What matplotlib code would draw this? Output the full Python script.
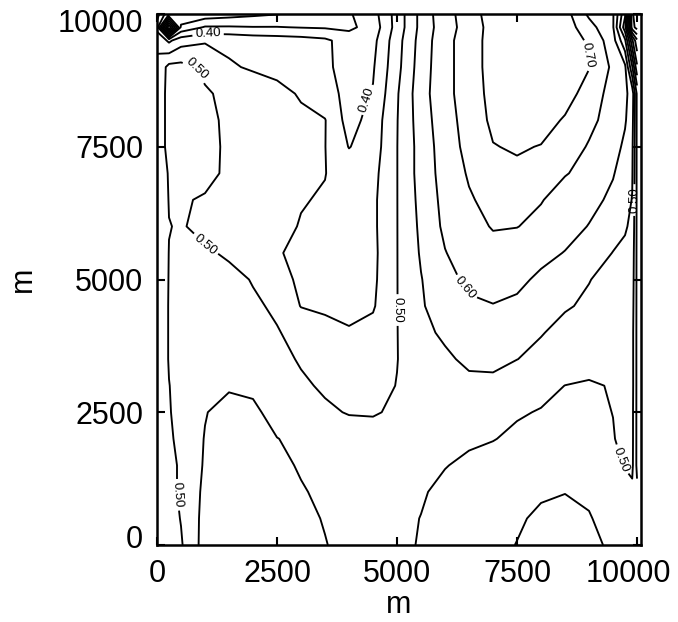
import matplotlib
matplotlib.use("Agg")
from matplotlib import pyplot as plt
from matplotlib import transforms
import numpy as np

plt.rcParams['font.family'] = ['Liberation Sans', 'DejaVu Sans']

# grid node positions (m)
x_nodes = [0, 250, 500, 1000, 1500, 2000, 2500, 3000, 3500, 4000, 4500, 5000,
           5500, 6000, 6500, 7000, 7500, 8000, 8500, 9000, 9500, 9750, 9900, 10000]
y_nodes = [0, 500, 1000, 1500, 2000, 2500, 3000, 3500, 4000, 4500, 5000, 5500,
           6000, 6500, 7000, 7500, 8000, 8500, 9000, 9500, 9750, 10000]

# field values, one row per y node (bottom to top)
row_0 = [0.46, 0.48, 0.495, 0.57, 0.585, 0.585, 0.575, 0.565, 0.552, 0.535, 0.52, 0.51, 0.497, 0.48, 0.47, 0.46, 0.449, 0.435, 0.43, 0.443, 0.455, 0.46, 0.46, 0.455]
row_1 = [0.46, 0.48, 0.502, 0.566, 0.585, 0.585, 0.575, 0.562, 0.547, 0.535, 0.522, 0.512, 0.499, 0.485, 0.475, 0.465, 0.455, 0.443, 0.438, 0.448, 0.462, 0.468, 0.47, 0.46]
row_2 = [0.46, 0.48, 0.51, 0.56, 0.58, 0.58, 0.57, 0.555, 0.538, 0.53, 0.52, 0.512, 0.505, 0.488, 0.478, 0.468, 0.46, 0.455, 0.451, 0.455, 0.468, 0.48, 0.49, 0.46]
row_3 = [0.46, 0.48, 0.51, 0.555, 0.575, 0.575, 0.565, 0.544, 0.535, 0.527, 0.52, 0.515, 0.51, 0.502, 0.49, 0.48, 0.472, 0.465, 0.462, 0.468, 0.485, 0.503, 0.51, 0.44]
row_4 = [0.46, 0.49, 0.517, 0.552, 0.565, 0.565, 0.551, 0.54, 0.532, 0.525, 0.52, 0.517, 0.515, 0.512, 0.508, 0.502, 0.49, 0.482, 0.478, 0.482, 0.498, 0.51, 0.512, 0.44]
row_5 = [0.46, 0.497, 0.515, 0.548, 0.565, 0.56, 0.532, 0.52, 0.508, 0.497, 0.496, 0.507, 0.515, 0.52, 0.52, 0.515, 0.505, 0.497, 0.49, 0.492, 0.5005, 0.51, 0.512, 0.44]
row_6 = [0.46, 0.499, 0.515, 0.54, 0.545, 0.54, 0.525, 0.508, 0.493, 0.485, 0.488, 0.501, 0.52, 0.53, 0.535, 0.535, 0.525, 0.515, 0.4995, 0.493, 0.504, 0.515, 0.515, 0.44]
row_7 = [0.46, 0.503, 0.515, 0.53, 0.535, 0.53, 0.515, 0.495, 0.485, 0.475, 0.478, 0.499, 0.525, 0.54, 0.562, 0.565, 0.5505, 0.54, 0.53, 0.525, 0.52, 0.52, 0.515, 0.44]
row_8 = [0.46, 0.503, 0.515, 0.528, 0.53, 0.522, 0.502, 0.49, 0.47, 0.455, 0.465, 0.499, 0.535, 0.56, 0.575, 0.585, 0.575, 0.552, 0.54, 0.53, 0.525, 0.522, 0.515, 0.44]
row_9 = [0.46, 0.503, 0.515, 0.525, 0.522, 0.505, 0.495, 0.448, 0.44, 0.435, 0.445, 0.499, 0.545, 0.575, 0.592, 0.598, 0.59, 0.575, 0.553, 0.545, 0.535, 0.53, 0.52, 0.44]
row_10 = [0.46, 0.502, 0.512, 0.518, 0.51, 0.498, 0.47, 0.44, 0.425, 0.425, 0.44, 0.499, 0.548, 0.585, 0.61, 0.62, 0.612, 0.59, 0.575, 0.551, 0.54, 0.535, 0.525, 0.44]
row_11 = [0.46, 0.501, 0.508, 0.505, 0.495, 0.47, 0.457, 0.43, 0.42, 0.42, 0.438, 0.499, 0.555, 0.598, 0.625, 0.635, 0.63, 0.615, 0.598, 0.57, 0.549, 0.54, 0.53, 0.44]
row_12 = [0.46, 0.499, 0.503, 0.49, 0.48, 0.47, 0.46, 0.448, 0.435, 0.425, 0.44, 0.499, 0.56, 0.61, 0.635, 0.653, 0.651, 0.64, 0.62, 0.598, 0.565, 0.555, 0.54, 0.44]
row_13 = [0.46, 0.502, 0.51, 0.49, 0.475, 0.465, 0.458, 0.452, 0.447, 0.43, 0.44, 0.499, 0.565, 0.615, 0.645, 0.665, 0.67, 0.652, 0.635, 0.615, 0.59, 0.57, 0.548, 0.44]
row_14 = [0.46, 0.505, 0.525, 0.53, 0.48, 0.47, 0.465, 0.458, 0.451, 0.43, 0.435, 0.499, 0.57, 0.62, 0.655, 0.68, 0.69, 0.685, 0.652, 0.64, 0.603, 0.58, 0.555, 0.44]
row_15 = [0.46, 0.52, 0.53, 0.535, 0.48, 0.47, 0.463, 0.457, 0.451, 0.398, 0.425, 0.499, 0.57, 0.625, 0.665, 0.698, 0.705, 0.698, 0.68, 0.645, 0.62, 0.59, 0.56, 0.44]
row_16 = [0.46, 0.52, 0.53, 0.52, 0.485, 0.48, 0.47, 0.46, 0.452, 0.38, 0.42, 0.498, 0.575, 0.63, 0.67, 0.71, 0.725, 0.72, 0.695, 0.665, 0.625, 0.605, 0.57, 0.44]
row_17 = [0.46, 0.52, 0.53, 0.505, 0.49, 0.475, 0.465, 0.445, 0.42, 0.385, 0.403, 0.495, 0.58, 0.635, 0.675, 0.715, 0.73, 0.73, 0.72, 0.68, 0.63, 0.61, 0.58, 0.44]
row_18 = [0.46, 0.515, 0.515, 0.49, 0.455, 0.445, 0.435, 0.425, 0.41, 0.38, 0.395, 0.485, 0.575, 0.635, 0.675, 0.72, 0.735, 0.735, 0.725, 0.702, 0.64, 0.61, 0.455, 0.31]
row_19 = [0.44, 0.39, 0.43, 0.445, 0.44, 0.43, 0.425, 0.42, 0.41, 0.375, 0.385, 0.48, 0.57, 0.635, 0.675, 0.72, 0.735, 0.735, 0.72, 0.695, 0.62, 0.51, 0.31, 0.21]
row_20 = [0.38, 0.0, 0.31, 0.355, 0.355, 0.352, 0.352, 0.348, 0.345, 0.34, 0.37, 0.47, 0.565, 0.63, 0.67, 0.72, 0.735, 0.735, 0.725, 0.67, 0.605, 0.42, 0.12, 0.08]
row_21 = [0.42, 0.31, 0.26, 0.27, 0.28, 0.29, 0.298, 0.31, 0.33, 0.345, 0.38, 0.47, 0.565, 0.635, 0.67, 0.73, 0.735, 0.735, 0.72, 0.64, 0.605, 0.46, 0.11, 0.06]

rows = [row_0, row_1, row_2, row_3, row_4, row_5, row_6, row_7, row_8, row_9, row_10,
        row_11, row_12, row_13, row_14, row_15, row_16, row_17, row_18, row_19, row_20, row_21]

plain_levels = [0.05, 0.10, 0.15, 0.20, 0.25, 0.30, 0.35, 0.45, 0.55, 0.65]
label_levels = [0.40, 0.50, 0.60, 0.70]
label_spots = [(1062, 9547), (4396, 8380), (792, 8944), (1000, 5649), (5021, 4425),
               (396, 942), (9646, 1600), (9980, 6496), (6458, 4858), (9021, 9227)]

ticks = [0, 2500, 5000, 7500, 10000]

fig = plt.figure(figsize=(6.78, 6.22), dpi=100)
ax = fig.add_axes([157 / 678, 1 - 545 / 622, (641 - 157) / 678, (545 - 14) / 622])

X, Y = np.meshgrid(x_nodes, y_nodes)
Z = np.array(rows)
ax.contour(X, Y, Z, levels=plain_levels, colors='black', linewidths=1.35)
cs = ax.contour(X, Y, Z, levels=label_levels, colors='black', linewidths=1.35)
ax.clabel(cs, inline=True, inline_spacing=3, fmt='%.2f', fontsize=9.5,
          manual=label_spots)

ax.set_xlim(0, 10083)
ax.set_ylim(0, 10000)
ax.set_xticks(ticks)
ax.set_yticks(ticks)
ax.tick_params(direction='in', top=True, right=True, length=6, width=1.5,
               labelsize=22, pad=10)
for s in ax.spines.values():
    s.set_linewidth(1.8)
ax.set_xlabel("m", fontsize=22, labelpad=1)
ax.set_ylabel("m", fontsize=22, labelpad=14)

# end tick labels sit a little inward, as in the original
def nudge(label, dx, dy):
    off = transforms.ScaledTranslation(dx / 72, dy / 72, fig.dpi_scale_trans)
    label.set_transform(label.get_transform() + off)

nudge(ax.xaxis.get_major_ticks()[-1].label1, -6, 0)
nudge(ax.yaxis.get_major_ticks()[0].label1, 0, 6)
nudge(ax.yaxis.get_major_ticks()[-1].label1, 0, -5)

fig.savefig("out.png", dpi=100)
